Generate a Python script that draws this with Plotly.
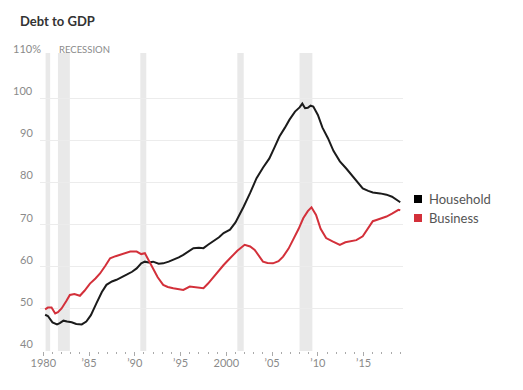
import plotly.graph_objects as go

# ---- data ----
hh_years = [1980.2, 1980.5, 1981.0, 1981.5, 1981.8, 1982.2, 1982.6, 1983.1, 1983.6, 1984.2,
            1984.7, 1985.2, 1985.8, 1986.4, 1986.9, 1987.5, 1988.0, 1988.6, 1989.1, 1989.7,
            1990.2, 1990.7, 1991.1, 1991.5, 1992.0, 1992.6, 1993.1, 1993.7, 1994.2, 1994.8,
            1995.3, 1995.9, 1996.4, 1997.0, 1997.5, 1998.0, 1998.6, 1999.2, 1999.7, 2000.4,
            2001.0, 2001.5, 2001.9, 2002.6, 2003.3, 2004.0, 2004.7, 2005.3, 2005.8, 2006.4,
            2006.9, 2007.5, 2008.0, 2008.3, 2008.6, 2008.9, 2009.2, 2009.5, 2010.0, 2010.5,
            2011.1, 2011.7, 2012.4, 2013.1, 2013.8, 2014.4, 2014.9, 2015.5, 2016.0, 2016.8,
            2017.5, 2018.1, 2018.6, 2019.0]
household = [48.6, 48.3, 46.8, 46.3, 46.6, 47.2, 47.0, 46.8, 46.4, 46.3,
             47.0, 48.5, 51.3, 54.0, 55.7, 56.5, 56.9, 57.5, 58.1, 58.8,
             59.6, 60.8, 61.2, 61.0, 61.2, 60.7, 60.8, 61.2, 61.6, 62.2,
             62.8, 63.6, 64.4, 64.5, 64.4, 65.2, 66.0, 67.0, 68.0, 68.8,
             70.5, 72.5, 74.3, 77.5, 81.0, 83.5, 85.7, 88.5, 90.9, 93.0,
             94.9, 96.8, 97.8, 98.7, 97.6, 97.7, 98.2, 98.0, 96.0, 93.0,
             90.5, 87.5, 85.0, 83.3, 81.4, 79.8, 78.6, 78.0, 77.6, 77.4,
             77.1, 76.6, 75.9, 75.3]

bus_years = [1980.2, 1980.5, 1980.9, 1981.3, 1981.6, 1982.0, 1982.5, 1982.9, 1983.4, 1984.0,
             1984.5, 1985.1, 1985.7, 1986.2, 1986.8, 1987.3, 1987.9, 1988.4, 1989.0, 1989.5,
             1990.2, 1990.7, 1991.1, 1991.5, 1992.0, 1992.5, 1993.1, 1993.6, 1994.2, 1994.8,
             1995.3, 1996.0, 1996.7, 1997.5, 1998.0, 1998.6, 1999.2, 1999.7, 2000.4, 2001.2,
             2002.0, 2002.6, 2003.1, 2003.6, 2004.0, 2004.5, 2005.1, 2005.7, 2006.2, 2006.8,
             2007.3, 2007.9, 2008.4, 2008.9, 2009.3, 2009.8, 2010.3, 2010.9, 2011.6, 2012.4,
             2013.0, 2013.5, 2014.2, 2014.9, 2015.5, 2016.0, 2016.4, 2017.0, 2017.5, 2018.1,
             2018.8, 2019.0]
business = [49.9, 50.3, 50.3, 48.9, 49.2, 50.1, 51.8, 53.3, 53.5, 53.1,
            54.3, 56.0, 57.2, 58.4, 60.3, 62.0, 62.5, 62.8, 63.2, 63.6,
            63.6, 63.0, 63.2, 61.5, 59.6, 57.5, 55.7, 55.2, 54.9, 54.6,
            54.5, 55.3, 55.1, 54.9, 56.0, 57.6, 59.0, 60.4, 62.0, 63.8,
            65.2, 64.8, 64.0, 62.5, 61.2, 60.9, 60.8, 61.3, 62.4, 64.3,
            66.4, 69.0, 71.5, 73.2, 74.1, 72.3, 69.0, 66.8, 66.0, 65.2,
            65.8, 66.0, 66.3, 67.2, 69.0, 70.8, 71.1, 71.6, 71.9, 72.6,
            73.5, 73.4]

recession_start = [1980.25, 1981.6, 1990.6, 2001.2, 2008.0]
recession_end = [1980.75, 1982.9, 1991.25, 2001.9, 2009.4]

y_ticks = [40, 50, 60, 70, 80, 90, 100, 110]
y_labels = ["40", "50", "60", "70", "80", "90", "100", "110%"]
x_ticks = [1980, 1985, 1990, 1995, 2000, 2005, 2010, 2015]
x_labels = ["1980", "\u201985", "\u201990", "\u201995", "2000", "\u201905", "\u201910", "\u201915"]

series_names = ["Household", "Business"]
series_colors = ["#1b1b1b", "#d3303a"]
legend_swatch = ["#000000", "#d3303a"]

GRAY = "#8a8a8a"
FONT = "Lato"

fig = go.Figure()

for s, e in zip(recession_start, recession_end):
    fig.add_vrect(x0=s, x1=e, fillcolor="#e9e9e9", line_width=0, layer="below",
                  y0=0, y1=1.01)

for xs, ys, name, col in zip([hh_years, bus_years], [household, business],
                             series_names, series_colors):
    fig.add_trace(go.Scatter(x=xs, y=ys, mode="lines", name=name,
                             line=dict(color=col, width=2), showlegend=False,
                             hoverinfo="skip"))

# legend built from annotations (square swatch + label)
for i, (name, col) in enumerate(zip(series_names, legend_swatch)):
    ypos = 1 - (199 + 19 * i) / 390
    fig.add_annotation(x=418 / 523, xref="paper", y=ypos, yref="paper", text="",
                       showarrow=False, width=8, height=8, bgcolor=col,
                       xanchor="center", yanchor="middle", borderpad=0, borderwidth=0)
    fig.add_annotation(x=427 / 523, xref="paper", y=ypos, yref="paper", text=name,
                       showarrow=False, xanchor="left", yanchor="middle",
                       font=dict(family=FONT, size=13, color="#555555"))

# y tick labels above gridlines
for v, t in zip(y_ticks, y_labels):
    shift = 3 if t.endswith("%") else -5
    fig.add_annotation(x=0, xref="x domain", y=v, yref="y", text=t, showarrow=False,
                       xanchor="right", yanchor="bottom", xshift=shift, yshift=-1,
                       font=dict(family=FONT, size=11, color=GRAY))

fig.add_annotation(x=recession_start[1], xref="x", y=110, yref="y", text="RECESSION",
                   showarrow=False, xanchor="left", yanchor="bottom", yshift=-1, xshift=-1,
                   font=dict(family=FONT, size=9.5, color=GRAY))

fig.add_annotation(x=18 / 523, xref="paper", y=1 - 21 / 390, yref="paper",
                   text="<b>Debt to GDP</b>", showarrow=False,
                   xanchor="left", yanchor="middle",
                   font=dict(family=FONT, size=13, color="#333333"))

fig.update_layout(
    width=523, height=390,
    margin=dict(l=0, r=0, t=0, b=0, autoexpand=False),
    paper_bgcolor="white", plot_bgcolor="white",
    font=dict(family=FONT, size=11, color=GRAY),
    showlegend=False,
    xaxis=dict(domain=[40 / 523, 403 / 523], automargin=False,
               range=[1979.64, 2019.3], tickvals=x_ticks, ticktext=x_labels,
               showgrid=False, zeroline=False, showline=False,
               ticks="outside", ticklen=4, tickcolor="#aaaaaa", tickwidth=1,
               ticklabelstandoff=-2,
               minor=dict(dtick=1, tick0=1980, ticks="outside", ticklen=2,
                          tickcolor="#aaaaaa", showgrid=False),
               tickfont=dict(family=FONT, size=11, color=GRAY)),
    yaxis=dict(domain=[39 / 390, 334 / 390], automargin=False,
               range=[40, 110], tickvals=y_ticks, showticklabels=False,
               showgrid=True, gridcolor="#ececec", gridwidth=1,
               zeroline=False, showline=False, ticks=""),
)

fig.write_html("out.html", config={"displayModeBar": False},
               post_script="document.body.style.margin='0';")
